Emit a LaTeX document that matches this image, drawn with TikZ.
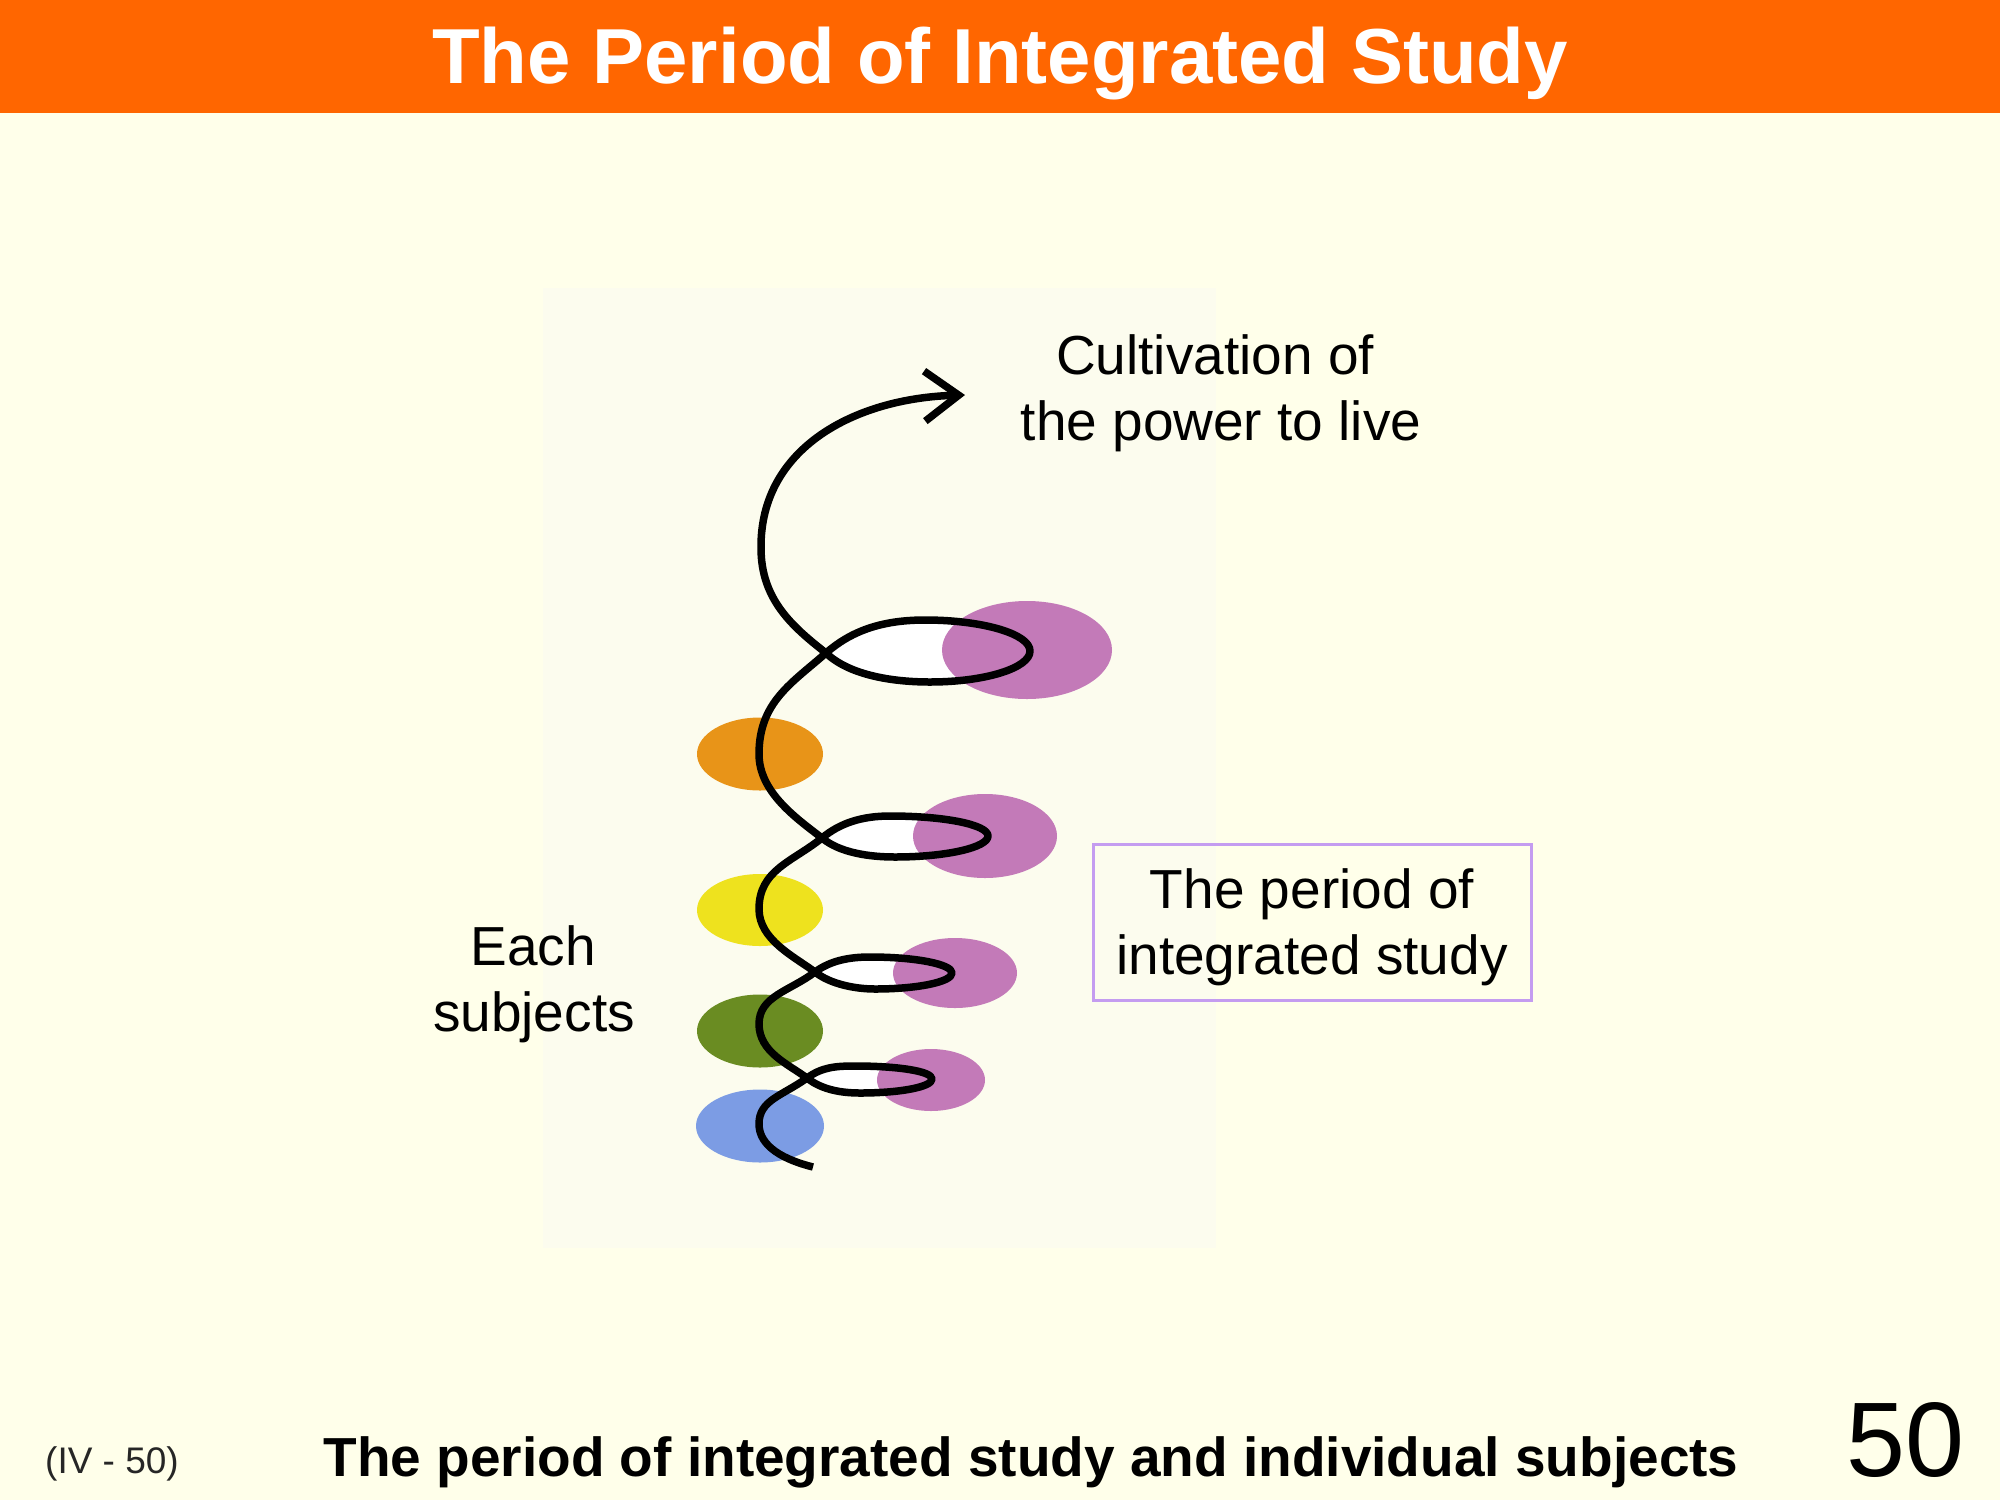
\documentclass[tikz,border=0pt]{standalone}
\usepackage{fontspec}
\setmainfont{Liberation Sans}
\usetikzlibrary{arrows.meta}
\definecolor{bgcream}{RGB}{255,255,234}
\definecolor{insetcream}{RGB}{252,252,238}
\definecolor{headerorange}{RGB}{255,102,0}
\definecolor{purp}{RGB}{195,122,184}
\definecolor{subjorange}{RGB}{232,148,24}
\definecolor{subjyellow}{RGB}{238,226,30}
\definecolor{subjgreen}{RGB}{106,140,34}
\definecolor{subjblue}{RGB}{124,156,228}
\definecolor{boxline}{RGB}{196,156,240}
\tikzset{
  lab/.style={font=\fontsize{55}{66}\selectfont, anchor=base, inner sep=0pt, text=black},
  helix/.style={line width=7.5pt, line join=round, draw=black},
  loopfill/.style={fill=white},
  purpblob/.style={fill=purp},
  periodbox/.style={draw=boxline, line width=3pt, minimum width=438pt, minimum height=156pt, inner sep=0pt},
}
\begin{document}
\begin{tikzpicture}[x=1pt,y=-1pt]
\useasboundingbox (0,0) rectangle (2000,1500);
\fill[bgcream] (0,0) rectangle (2000,1500);
\fill[headerorange] (0,0) rectangle (2000,113);
\fill[insetcream] (543,288) rectangle (1216,1248);

\node[anchor=base, inner sep=0pt, text=white, font=\bfseries\fontsize{78}{80}\selectfont] (title) at (1000,83) {The Period of Integrated Study};

% subject ellipses (left)
\fill[subjorange] (760,754) ellipse [x radius=63pt, y radius=36.5pt];
\fill[subjyellow] (760,910) ellipse [x radius=63pt, y radius=36pt];
\fill[subjgreen] (760,1031) ellipse [x radius=63pt, y radius=36.5pt];
\fill[subjblue] (760,1126) ellipse [x radius=64pt, y radius=36.5pt];

% white loop interiors
\fill[loopfill] (826,653) .. controls (850,676) and (895,682) .. (930,682)
 .. controls (985,682) and (1030,668) .. (1030,651)
 .. controls (1030,634) and (983,620) .. (925,620)
 .. controls (880,620) and (850,632) .. cycle;
\fill[loopfill] (822,838) .. controls (840,853) and (870,857) .. (895,857)
 .. controls (946,857) and (988,847.5) .. (988,836)
 .. controls (988,824.5) and (944,816) .. (890,816)
 .. controls (862,816) and (840,823) .. cycle;
\fill[loopfill] (815,972) .. controls (830,984) and (855,989) .. (875,989)
 .. controls (917,989) and (952,982) .. (952,973)
 .. controls (952,964) and (915,957) .. (870,957)
 .. controls (848,957) and (830,961) .. cycle;
\fill[loopfill] (807,1078) .. controls (822,1090) and (842,1093) .. (860,1093)
 .. controls (900,1093) and (932,1087) .. (932,1079)
 .. controls (932,1071) and (897,1066) .. (855,1066)
 .. controls (836,1066) and (822,1067) .. cycle;

% integrated-study ellipses (right)
\fill[purpblob] (1027,650) ellipse [x radius=85pt, y radius=49pt];
\fill[purpblob] (985,836) ellipse [x radius=72pt, y radius=42pt];
\fill[purpblob] (955,973) ellipse [x radius=62pt, y radius=35pt];
\fill[purpblob] (931,1080) ellipse [x radius=54pt, y radius=31pt];

% helix
\draw[helix, {Straight Barb[length=34pt,width=50pt]}-] (965,395)
 .. controls (855,398) and (760,448) .. (761,548)
 .. controls (761,600) and (793,627) .. (826,653)
 .. controls (850,676) and (895,682) .. (930,682)
 .. controls (985,682) and (1030,668) .. (1030,651)
 .. controls (1030,634) and (983,620) .. (925,620)
 .. controls (880,620) and (850,632) .. (826,653)
 .. controls (792,683) and (759,702) .. (759,754)
 .. controls (759,792) and (796,818) .. (822,838)
 .. controls (840,853) and (870,857) .. (895,857)
 .. controls (946,857) and (988,847.5) .. (988,836)
 .. controls (988,824.5) and (944,816) .. (890,816)
 .. controls (862,816) and (840,823) .. (822,838)
 .. controls (792,862) and (759,870) .. (759,909)
 .. controls (759,940) and (795,957) .. (815,972)
 .. controls (830,984) and (855,989) .. (875,989)
 .. controls (917,989) and (952,982) .. (952,973)
 .. controls (952,964) and (915,957) .. (870,957)
 .. controls (848,957) and (830,961) .. (815,972)
 .. controls (790,991) and (759,996) .. (759,1024)
 .. controls (759,1052) and (788,1064) .. (807,1078)
 .. controls (822,1090) and (842,1093) .. (860,1093)
 .. controls (900,1093) and (932,1087) .. (932,1079)
 .. controls (932,1071) and (897,1066) .. (855,1066)
 .. controls (836,1066) and (822,1067) .. (807,1078)
 .. controls (782,1096) and (759,1100) .. (759,1124)
 .. controls (759,1147) and (785,1160) .. (813,1167);

% labels
\node[lab] (cult1) at (1215,374) {Cultivation of};
\node[lab] (cult2) at (1221,440) {the power to live};
\node[lab] (each1) at (533,965) {Each};
\node[lab] (each2) at (534,1031) {subjects};
\node[periodbox] (pbox) at (1312,922) {};
\node[lab] (period1) at (1312,908) {The period of};
\node[lab] (period2) at (1312,974) {integrated study};

% footer
\node[anchor=base west, inner sep=0pt, text=black!85, font=\fontsize{37}{40}\selectfont] (ref) at (45,1473) {(IV - 50)};
\node[anchor=base, inner sep=0pt, font=\bfseries\fontsize{55}{60}\selectfont] (caption) at (1031,1476) {The period of integrated study and individual subjects};
\node[anchor=base, inner sep=0pt, font=\fontsize{106}{110}\selectfont] (pagenum) at (1905,1476) {50};
\end{tikzpicture}
\end{document}
